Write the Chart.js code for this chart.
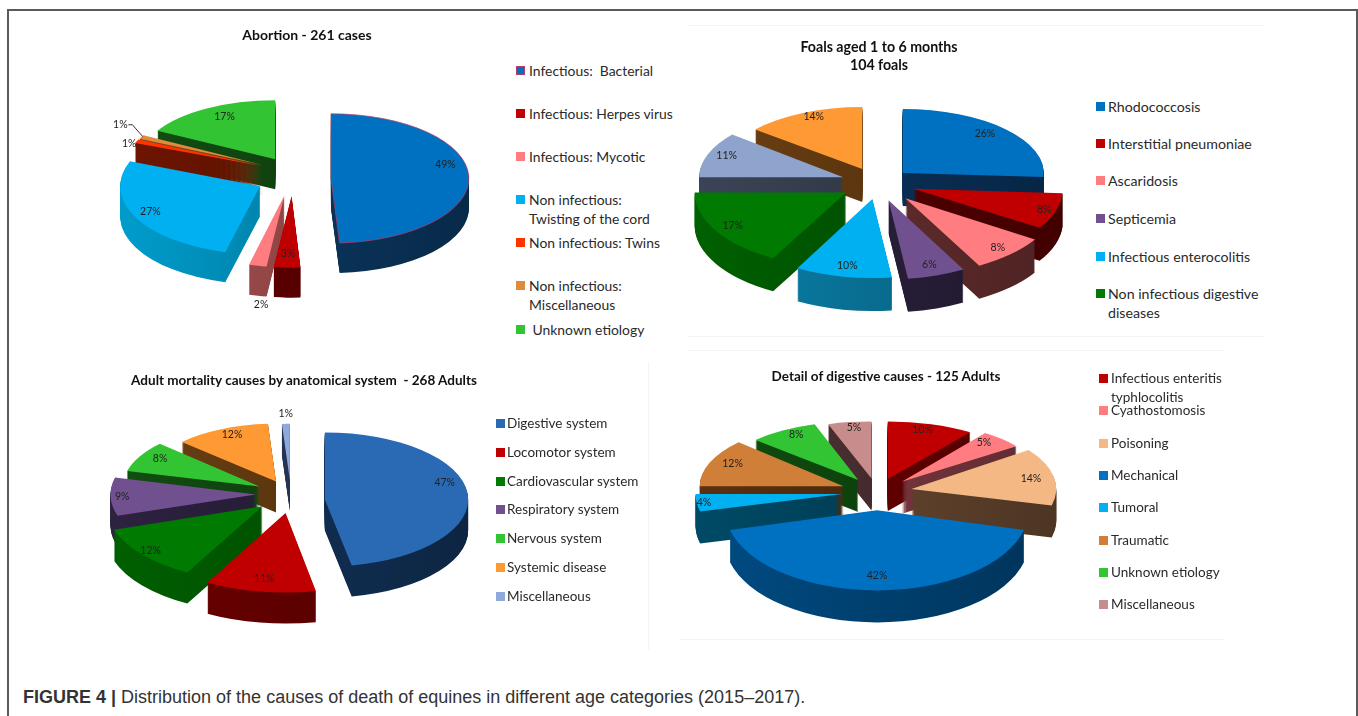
<!DOCTYPE html>
<html>
<head>
<meta charset="utf-8">
<title>Figure 4</title>
<script src="https://cdn.jsdelivr.net/npm/chart.js@4"></script>
<style>
  html, body { margin: 0; padding: 0; background: #fff; overflow: hidden; }
  body { width: 1358px; height: 716px; position: relative; font-family: Lato, sans-serif; color: #222; }
  #frame { position: absolute; left: 7px; top: 9px; width: 1347px; height: 720px; border: 2px solid #5a5a5a; }
  canvas { position: absolute; }
  .title { position: absolute; font-weight: bold; line-height: 18px; text-align: center; transform: translateX(-50%); white-space: pre; color: #111; }
  .item { position: absolute; line-height: 19px; white-space: pre; color: #2a2a2a; }
  .mark { position: absolute; width: 9px; height: 9px; }
  .rule { position: absolute; background: #f4f4f4; }
  #caption { position: absolute; left: 23px; top: 686px; font-family: "Liberation Sans", sans-serif; font-size: 18px; line-height: 22px; color: #333; white-space: nowrap; }
</style>
</head>
<body>
<div id="frame"></div>
<div class="rule" style="left:688px;top:25px;width:576px;height:1px"></div>
<div class="rule" style="left:688px;top:336px;width:576px;height:1px"></div>
<div class="rule" style="left:688px;top:350px;width:536px;height:1px"></div>
<div class="rule" style="left:648px;top:362px;width:1px;height:288px"></div>
<div class="rule" style="left:680px;top:639px;width:545px;height:1px"></div>
<div id="caption"><b>FIGURE 4 |</b> Distribution of the causes of death of equines in different age categories (2015–2017).</div>

<script>
// abortion
const abortionLabels = ["Infectious:  Bacterial", "Infectious: Herpes virus", "Infectious: Mycotic", "Non infectious:\nTwisting of the cord", "Non infectious: Twins", "Non infectious:\nMiscellaneous", " Unknown etiology"];
const abortionValues = [49, 3, 2, 27, 1, 1, 17];
const abortionColors = ["#0070c0", "#c00000", "#ff7c80", "#00b0f0", "#ff3300", "#e08a3c", "#33c433"];
const abortionSides = ["#0b3a66", "#660000", "#a85050", "#009ccb", "#6e1500", "#7a4a20", "#124d12"];
const abortionExplode = [38, 46, 46, 37, 34, 34, 35];
const abortionLabelAt = [0.83, 0.8, 1.55, 0.88, 1.06, 1.19, 0.74];
const abortionShift = [7, 0, 0, 6, 0, 0, 0];
const abortionLabelDx = [0, 0, 18, 0, 0, 2, 0];
const abortionLabelDy = [-5, 0, 0, 4, 7, -3, 0];

// foals, the last two slices have no legend entry in the figure
const foalLabels = ["Rhodococcosis", "Interstitial pneumoniae", "Ascaridosis", "Septicemia", "Infectious enterocolitis", "Non infectious digestive\ndiseases", "", ""];
const foalValues = [26, 8, 8, 6, 10, 17, 11, 14];
const foalColors = ["#0070c0", "#c00000", "#ff7c80", "#70508f", "#00b0f0", "#007a00", "#8ea4cc", "#ff9933"];
const foalSides = ["#0a3560", "#5a0000", "#6b3030", "#2d2240", "#0a7fa8", "#006000", "#3b4456", "#6b3f12"];
const foalExplode = [34, 37, 40, 34, 30, 37, 37, 37];
const foalLabelAt = [0.8, 0.92, 0.88, 0.85, 0.86, 0.87, 0.86, 0.82];

// adults
const adultLabels = ["Digestive system", "Locomotor system", "Cardiovascular system", "Respiratory system", "Nervous system", "Systemic disease", "Miscellaneous"];
const adultValues = [47, 11, 12, 9, 8, 12, 1];
const adultColors = ["#2a6ab5", "#c00000", "#007a00", "#70508f", "#33c433", "#ff9933", "#8ea9db"];
const adultSides = ["#12345c", "#6e0000", "#006000", "#2d2240", "#124d12", "#6b3f12", "#2a3a60"];
const adultExplode = [34, 35, 37, 35, 36, 35, 35];
const adultLabelAt = [0.84, 0.84, 0.93, 0.92, 0.83, 0.8, 1.05];
const adultShift = [7, 0, 0, 0, 0, 0, 0];
const adultLabelDy = [-5, 0, 0, 0, 0, 0, 0];

// digestive detail
const digestiveLabels = ["Infectious enteritis\ntyphlocolitis", "Cyathostomosis", "Poisoning", "Mechanical", "Tumoral", "Traumatic", "Unknown etiology", "Miscellaneous"];
const digestiveValues = [10, 5, 14, 42, 4, 12, 8, 5];
const digestiveColors = ["#c00000", "#ff7c80", "#f4b884", "#0070c0", "#00b0f0", "#d07f38", "#33c433", "#c98c8c"];
const digestiveSides = ["#6e0000", "#833c44", "#6b4a32", "#004a80", "#004a66", "#5a3010", "#0f4d0f", "#503236"];
const digestiveExplode = [35, 35, 35, 33, 35, 36, 35, 35];
const digestiveLabelAt = [0.8, 0.82, 0.84, 0.82, 0.95, 0.83, 0.82, 0.8];

const panels = [
  { title: "Abortion - 261 cases", titleX: 307, titleY: 26, titleSize: 14, labels: abortionLabels, values: abortionValues, colors: abortionColors, sides: abortionSides,
    explode: abortionExplode, labelAt: abortionLabelAt, shift: abortionShift, labelDx: abortionLabelDx, labelDy: abortionLabelDy,
    cx: 293, cy: 172, radius: 138, kBack: 0.42, kFront: 0.52, grow: 0.03, depth: 30,
    markX: 516, textX: 529, legendSize: 13.9, legendY: [71, 114, 157, 200, 243, 286, 330], leader: 5, outline: 0 },
  { title: "Foals aged 1 to 6 months\n104 foals", titleX: 879, titleY: 38, titleSize: 14.2, labels: foalLabels, values: foalValues, colors: foalColors, sides: foalSides,
    explode: foalExplode, labelAt: foalLabelAt,
    cx: 878, cy: 183, radius: 147, kBack: 0.415, kFront: 0.54, grow: 0.06, depth: 33,
    markX: 1096, textX: 1108, legendSize: 14.2, legendY: [107, 144, 181, 219, 257, 294] },
  { title: "Adult mortality causes by anatomical system  - 268 Adults", titleX: 304, titleY: 371, titleSize: 13.5, labels: adultLabels, values: adultValues, colors: adultColors, sides: adultSides,
    explode: adultExplode, labelAt: adultLabelAt, shift: adultShift, labelDy: adultLabelDy,
    cx: 291, cy: 494, radius: 145, kBack: 0.39, kFront: 0.55, grow: 0.12, depth: 31,
    markX: 496, textX: 507, legendSize: 13.5, legendY: [424, 453, 482, 510, 539, 568, 597] },
  { title: "Detail of digestive causes - 125 Adults", titleX: 886, titleY: 367, titleSize: 13.5, labels: digestiveLabels, values: digestiveValues, colors: digestiveColors, sides: digestiveSides,
    explode: digestiveExplode, labelAt: digestiveLabelAt,
    cx: 877, cy: 492, radius: 146, kBack: 0.39, kFront: 0.55, grow: 0.04, depth: 32,
    markX: 1099, textX: 1111, legendSize: 13.5, legendY: [379, 411, 444, 476, 508, 541, 573, 605] }
];

function shade(hex, f) {
  const n = parseInt(hex.slice(1), 16);
  const r = Math.round((n >> 16) * f), g = Math.round(((n >> 8) & 255) * f), b = Math.round((n & 255) * f);
  return "rgb(" + r + "," + g + "," + b + ")";
}

// flattening of one slice: the back of the pie is flatter and narrower than the front
function squash(p, mid) {
  return p.kBack + (p.kFront - p.kBack) * (1 + Math.sin(mid)) / 2;
}

// moves the context so a slice drawn by the library lands exploded and flattened
function place(ctx, el, p, i, drop) {
  const mid = (el.startAngle + el.endAngle) / 2;
  const k = squash(p, mid);
  const e = p.explode[i];
  const dy = p.shift ? p.shift[i] : 0;
  ctx.translate(el.x + Math.cos(mid) * e, el.y + Math.sin(mid) * e * k + drop + dy);
  ctx.scale(1 + p.grow * Math.sin(mid), k);
  ctx.translate(-el.x, -el.y);
}

const pie3d = {
  id: "pie3d",
  beforeDatasetsDraw(chart, args, opts) {
    const p = opts.panel, ctx = chart.ctx;
    const arcs = chart.getDatasetMeta(0).data;
    const order = arcs.map((el, i) => i).sort((a, b) =>
      Math.sin((arcs[a].startAngle + arcs[a].endAngle) / 2) - Math.sin((arcs[b].startAngle + arcs[b].endAngle) / 2));

    order.forEach(i => {
      const el = arcs[i];
      const top = el.options;

      // side wall, stacked copies of the slice
      const grad = ctx.createLinearGradient(el.x - p.radius, 0, el.x + p.radius, 0);
      grad.addColorStop(0, shade(p.sides[i], 1));
      grad.addColorStop(1, shade(p.sides[i], 0.72));
      el.options = Object.assign({}, top, { backgroundColor: grad, borderWidth: 0 });
      for (let d = p.depth; d >= 1; d--) {
        ctx.save();
        place(ctx, el, p, i, d);
        el.draw(ctx);
        ctx.restore();
      }
      el.options = top;

      ctx.save();
      place(ctx, el, p, i, 0);
      el.draw(ctx);
      ctx.restore();
    });

    // percent labels
    ctx.save();
    ctx.font = "10.5px Lato";
    ctx.fillStyle = "#222";
    ctx.textAlign = "center";
    ctx.textBaseline = "middle";
    arcs.forEach((el, i) => {
      const mid = (el.startAngle + el.endAngle) / 2;
      const s = Math.sin(mid);
      const k = squash(p, mid) * (s < -0.3 ? 1.1 : 1);
      const e = p.explode[i];
      const r = p.labelAt[i] * p.radius;
      const rx = e + r * (1 + p.grow * s);
      const x = el.x + Math.cos(mid) * rx + (p.labelDx ? p.labelDx[i] : 0);
      const y = el.y + s * (e + r) * k + (p.labelDy ? p.labelDy[i] : 0);
      ctx.fillText(p.values[i] + "%", x, y);
      if (p.leader === i) {
        // thin line from the small label to its slice
        const r2 = e + p.radius;
        ctx.strokeStyle = "#333";
        ctx.lineWidth = 1;
        ctx.beginPath();
        ctx.moveTo(x + 8, y);
        ctx.lineTo(x + 12, y);
        ctx.lineTo(el.x + Math.cos(mid) * r2 + 3, el.y + s * r2 * k + 3);
        ctx.stroke();
      }
    });
    ctx.restore();
    return false;
  }
};

function addText(cls, text, left, top) {
  const d = document.createElement("div");
  d.className = cls;
  d.textContent = text;
  d.style.left = left + "px";
  d.style.top = top + "px";
  document.body.appendChild(d);
  return d;
}

panels.forEach(p => {
  const w = 2 * (p.radius + 60), h = 340;
  const canvas = document.createElement("canvas");
  canvas.width = w;
  canvas.height = h;
  canvas.style.left = (p.cx - w / 2) + "px";
  canvas.style.top = (p.cy - h / 2) + "px";
  document.body.appendChild(canvas);

  new Chart(canvas.getContext("2d"), {
    type: "pie",
    data: {
      labels: p.labels,
      datasets: [{
        data: p.values,
        backgroundColor: p.colors,
        borderWidth: p.colors.map((c, i) => i === p.outline ? 1 : 0),
        borderColor: "#b0406a"
      }]
    },
    options: {
      responsive: false,
      animation: false,
      devicePixelRatio: 1,
      events: [],
      radius: p.radius,
      layout: { padding: 0 },
      plugins: {
        legend: { display: false },
        tooltip: { enabled: false },
        pie3d: { panel: p }
      }
    },
    plugins: [pie3d]
  });

  addText("title", p.title, p.titleX, p.titleY).style.fontSize = p.titleSize + "px";

  // html legend, entries without a name get no row
  let row = 0;
  p.labels.forEach((label, i) => {
    if (!label) return;
    const y = p.legendY[row++];
    const m = addText("mark", "", p.markX, y - 5);
    m.style.background = p.colors[i];
    if (p.outline === i) { m.style.outline = "1px solid #b0406a"; m.style.outlineOffset = "-1px"; }
    addText("item", label, p.textX, y - 10).style.fontSize = p.legendSize + "px";
  });
});
</script>
</body>
</html>
